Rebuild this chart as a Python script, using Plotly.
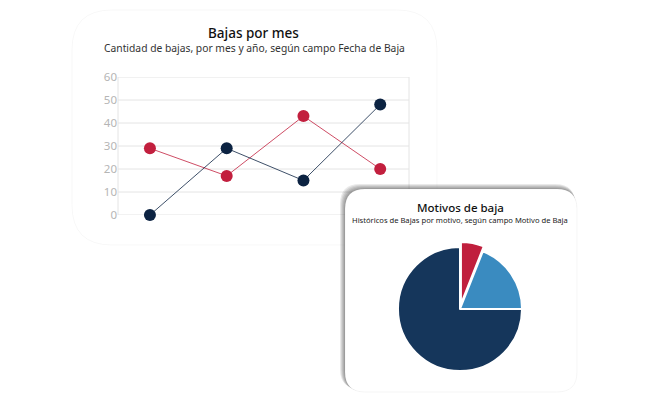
import plotly.graph_objects as go

W, H = 649, 401

# ---------------- data ----------------
months = ["Ene", "Feb", "Mar", "Abr"]
serie_a_name = "2023"
serie_a = [0, 29, 15, 48]
serie_b_name = "2022"
serie_b = [29, 17, 43, 20]
y_ticks = [0, 10, 20, 30, 40, 50, 60]

motivos = ["Motivo 1", "Motivo 2", "Motivo 3"]
motivos_val = [6, 19, 75]

NAVY = "#0c2342"
RED = "#c21f3e"
PIE_COLORS = ["#c01f3d", "#3a8bc0", "#15365b"]
FONT = "Noto Sans"


def px(x, y):
    return x / W, 1 - y / H


def rrect_path(x0, y0, x1, y1, r):
    def P(x, y):
        X, Y = px(x, y)
        return f"{X:.5f},{Y:.5f}"

    return (f"M {P(x0 + r, y0)} L {P(x1 - r, y0)} Q {P(x1, y0)} {P(x1, y0 + r)} "
            f"L {P(x1, y1 - r)} Q {P(x1, y1)} {P(x1 - r, y1)} "
            f"L {P(x0 + r, y1)} Q {P(x0, y1)} {P(x0, y1 - r)} "
            f"L {P(x0, y0 + r)} Q {P(x0, y0)} {P(x0 + r, y0)} Z")


fig = go.Figure()

fig.add_trace(go.Scatter(
    x=months, y=serie_b, name=serie_b_name, mode="lines+markers",
    line=dict(color=RED, width=0.8), marker=dict(color=RED, size=12),
    cliponaxis=False, showlegend=False))
fig.add_trace(go.Scatter(
    x=months, y=serie_a, name=serie_a_name, mode="lines+markers",
    line=dict(color=NAVY, width=0.8), marker=dict(color=NAVY, size=12),
    cliponaxis=False, showlegend=False))

pie_cx, pie_cy, pie_half = 460, 309, 67
fig.add_trace(go.Pie(
    labels=motivos, values=motivos_val, sort=False, direction="clockwise",
    rotation=0, pull=[0.08, 0, 0], textinfo="none", showlegend=False,
    marker=dict(colors=PIE_COLORS, line=dict(color="white", width=2)),
    domain=dict(x=[(pie_cx - pie_half) / W, (pie_cx + pie_half) / W],
                y=[(H - pie_cy - pie_half) / H, (H - pie_cy + pie_half) / H])))

PL, PR, PT, PB = 118, 409, 77, 215

shapes = []
# back card (very faint)
shapes.append(dict(type="path", path=rrect_path(72, 10, 437, 245, 40),
                   xref="paper", yref="paper", layer="below",
                   fillcolor="white", line=dict(color="rgba(0,0,0,0.03)", width=1)))
# grid lines
for v in y_ticks:
    shapes.append(dict(type="line", xref="paper", yref="y", layer="below",
                       x0=PL / W, x1=PR / W, y0=v, y1=v,
                       line=dict(color="#e4e4e4", width=1)))
for xx in (PL, PR):
    shapes.append(dict(type="line", xref="paper", yref="y", layer="below",
                       x0=xx / W, x1=xx / W, y0=y_ticks[0], y1=y_ticks[-1],
                       line=dict(color="#e4e4e4", width=1)))
# pie card shadow
CX0, CY0, CX1, CY1, CR = 345, 189, 577, 392, 20
for d in [5, 4, 3, 2, 1]:
    shapes.append(dict(type="path",
                       path=rrect_path(CX0 - d, CY0 - d, CX1 - d * 0.4, CY1 - d * 0.6, CR),
                       xref="paper", yref="paper", layer="below",
                       fillcolor="rgba(0,0,0,0.085)", line=dict(width=0)))
shapes.append(dict(type="path", path=rrect_path(CX0, CY0, CX1, CY1, CR),
                   xref="paper", yref="paper", layer="below",
                   fillcolor="white", line=dict(color="rgba(0,0,0,0.04)", width=1)))

annotations = [
    dict(text="Bajas por mes", x=253 / W, y=1 - 33.5 / H, xref="paper", yref="paper",
         showarrow=False, xanchor="center", yanchor="middle", borderpad=0,
         font=dict(family=FONT, size=13.5, color="#111111", weight=500)),
    dict(text="Cantidad de bajas, por mes y año, según campo Fecha de Baja",
         x=255 / W, y=1 - 48.5 / H, xref="paper", yref="paper",
         showarrow=False, xanchor="center", yanchor="middle", borderpad=0,
         font=dict(family=FONT, size=10.3, color="#333333")),
    dict(text="Motivos de baja", x=460 / W, y=1 - 207 / H, xref="paper", yref="paper",
         showarrow=False, xanchor="center", yanchor="middle", borderpad=0,
         font=dict(family=FONT, size=11.5, color="#111111", weight=500)),
    dict(text="Históricos de Bajas por motivo, según campo Motivo de Baja",
         x=460 / W, y=1 - 220 / H, xref="paper", yref="paper",
         showarrow=False, xanchor="center", yanchor="middle", borderpad=0,
         font=dict(family=FONT, size=7.6, color="#222222")),
]

fig.update_layout(
    width=W, height=H, autosize=False,
    margin=dict(l=0, r=0, t=0, b=0, pad=0, autoexpand=False),
    paper_bgcolor="white", plot_bgcolor="rgba(0,0,0,0)",
    shapes=shapes, annotations=annotations,
    xaxis=dict(domain=[PL / W, PR / W], type="category", range=[-0.416, 3.375],
               showgrid=False, zeroline=False, showline=False, showticklabels=False,
               ticks="", automargin=False),
    yaxis=dict(domain=[(H - PB) / H, (H - PT) / H], range=[0, 60], tickvals=y_ticks,
               showgrid=False, zeroline=False, showline=False, ticks="", automargin=False,
               tickfont=dict(family=FONT, size=11.5, color="#b5b5b5")),
    font=dict(family=FONT),
)

fig.write_html("out.html", config={"displayModeBar": False},
               post_script="document.body.style.margin='0';")
